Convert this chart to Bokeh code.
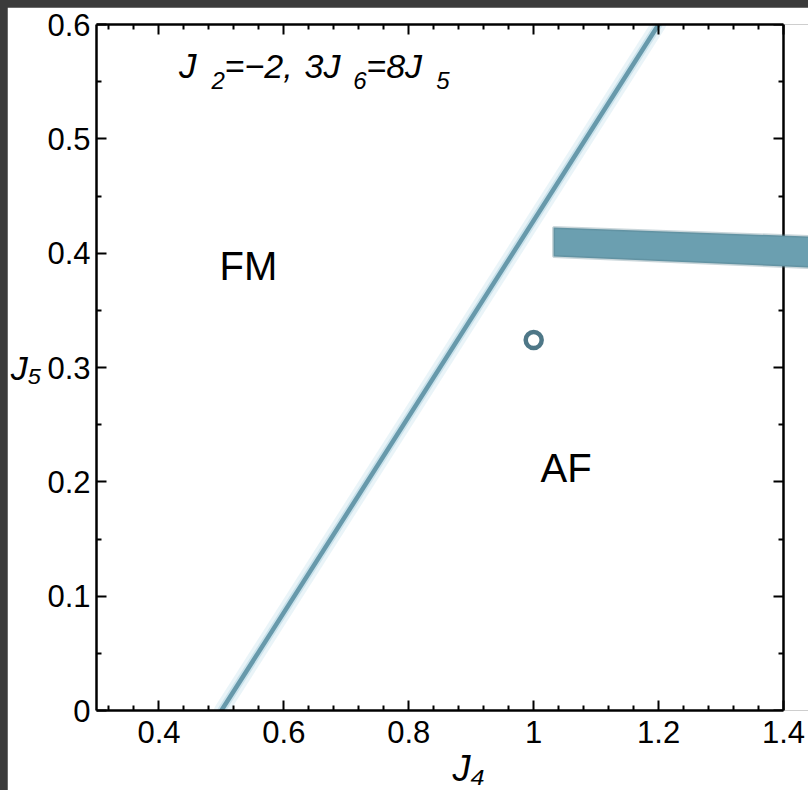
from bokeh.plotting import figure
from bokeh.models import (LinearAxis, FixedTicker, Label, PolyAnnotation, Range1d,
                          Title, CustomLabelingPolicy)
from bokeh.layouts import column
from bokeh.embed import file_html
from bokeh.resources import INLINE

# ---- data ----
x_ticks = [0.4, 0.6, 0.8, 1.0, 1.2, 1.4]
x_minor = [0.32, 0.36, 0.44, 0.48, 0.52, 0.56, 0.64, 0.68, 0.72, 0.76,
           0.84, 0.88, 0.92, 0.96, 1.04, 1.08, 1.12, 1.16, 1.24, 1.28, 1.32, 1.36]
y_ticks = [0, 0.1, 0.2, 0.3, 0.4, 0.5, 0.6]
y_minor = [0.05, 0.15, 0.25, 0.35, 0.45, 0.55]
x_labels = {1: "1"}
y_labels = {0: "0"}
x_lo, x_hi = 0.3, 1.4
y_lo, y_hi = 0.0, 0.6

boundary_j4 = [0.5, 1.2]
boundary_j5 = [0.0, 0.6]
point_j4 = [1.0]
point_j5 = [0.324]
bar_j4 = [1.0318, 1.0318, 1.46, 1.46]
bar_j5 = [0.4225, 0.397, 0.387, 0.4142]

FONT = "Liberation Sans"

p = figure(width=801, height=783, output_backend="svg", toolbar_location=None,
           x_range=Range1d(x_lo, 1.44), y_range=Range1d(y_lo, y_hi),
           min_border_left=89, min_border_right=0, min_border_top=17, min_border_bottom=80,
           background_fill_color="white", border_fill_color="white")
p.margin = (7, 0, 0, 7)
p.grid.visible = False
p.outline_line_color = None

hide_all = CustomLabelingPolicy(code="""
for (const i of indices) { indices.unset(i) }
return indices
""")

p.add_layout(LinearAxis(), "above")
p.add_layout(LinearAxis(fixed_location=x_hi), "right")

xt = FixedTicker(ticks=x_ticks, minor_ticks=x_minor)
yt = FixedTicker(ticks=y_ticks, minor_ticks=y_minor)

for ax in p.xaxis:
    ax.ticker = xt
    ax.bounds = (x_lo, x_hi)
for ax in p.yaxis:
    ax.ticker = yt

for ax in p.axis:
    ax.axis_line_color = "black"
    ax.axis_line_width = 2.5
    ax.major_tick_line_color = "black"
    ax.major_tick_line_width = 2
    ax.minor_tick_line_color = "black"
    ax.minor_tick_line_width = 2
    ax.major_tick_in = 10
    ax.major_tick_out = 0
    ax.minor_tick_in = 5
    ax.minor_tick_out = 0
    ax.major_label_text_font = FONT
    ax.major_label_text_font_size = "31px"
    ax.major_label_text_color = "black"

for ax in (p.above[0], p.right[0]):
    ax.major_label_text_font_size = "0px"
    ax.major_label_standoff = 0
    ax.major_label_policy = hide_all

bx = p.below[0]
bx.major_label_overrides = x_labels
bx.major_label_standoff = 10

ly = p.left[0]
ly.major_label_overrides = y_labels
ly.major_label_standoff = 6
ly.axis_label = "J\u2085"
ly.axis_label_text_font = FONT
ly.axis_label_text_font_style = "italic"
ly.axis_label_text_font_size = "34px"
ly.axis_label_text_color = "black"
ly.axis_label_standoff = 3
if "axis_label_orientation" in ly.properties():
    ly.axis_label_orientation = "horizontal"

# x-axis label as a title below the axis
p.add_layout(Title(text="J\u2084", align="left", offset=356, standoff=0,
                   text_font=FONT, text_font_style="italic", text_font_size="36px",
                   text_color="black"), "below")

# boundary line with glow
p.line(boundary_j4, boundary_j5, line_color="#e8f3f7", line_width=15, line_alpha=0.9, line_cap="round")
p.line(boundary_j4, boundary_j5, line_color="#c8e1ea", line_width=8, line_alpha=0.9, line_cap="round")
p.line(boundary_j4, boundary_j5, line_color="#6799ab", line_width=4.5, line_cap="round")

# ring marker
p.scatter(point_j4, point_j5, marker="circle", size=16, fill_color="white",
          line_color="#4e7787", line_width=4.5)

# bar overlay
p.add_layout(PolyAnnotation(xs=bar_j4, ys=bar_j5, xs_units="data", ys_units="data",
                            fill_color="#6b9fb0", fill_alpha=1.0,
                            line_color="#4f7686", line_width=3))

def lab(x, y, t, size, style="normal"):
    p.add_layout(Label(x=x, y=y, text=t, text_font=FONT, text_font_size=size,
                       text_font_style=style, text_color="black",
                       text_align="left", text_baseline="middle"))

# region labels
lab(0.4970, 0.3892, "FM", "40px")
lab(1.0110, 0.2117, "AF", "40px")

# title pieces
lab(0.4320, 0.5640, "J", "35px", "italic")
lab(0.4841, 0.5510, "2", "24px", "italic")
lab(0.5050, 0.5640, "=\u22122,", "34px", "italic")
lab(0.6330, 0.5640, "3J", "34px", "italic")
lab(0.7110, 0.5510, "6", "24px", "italic")
lab(0.7320, 0.5640, "=8J", "34px", "italic")
lab(0.8440, 0.5510, "5", "24px", "italic")

layout = column(p, styles={"background-color": "#3b3b3b"})
open("out.html", "w").write(file_html(layout, INLINE))
